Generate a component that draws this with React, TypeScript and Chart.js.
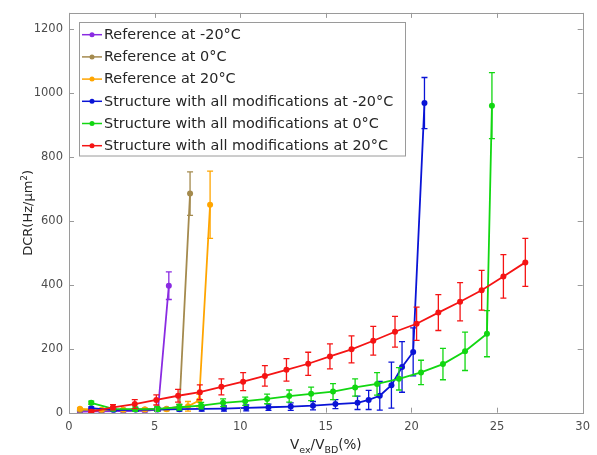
import React, { useEffect, useRef } from "react";
import { Chart, registerables } from "chart.js";

Chart.register(...registerables);

// ---- Data ----
const seriesLabels = [
  "Reference at -20°C",
  "Reference at 0°C",
  "Reference at 20°C",
  "Structure with all modifications at -20°C",
  "Structure with all modifications at 0°C",
  "Structure with all modifications at 20°C",
];
const seriesColors = ["#8a2be2", "#a48a4e", "#ffa500", "#0a14d6", "#12d712", "#f51414"];

const refM20X = [0.64, 1.9, 3.17, 4.43, 5.2, 5.83];
const refM20Y = [3, 4, 5, 6, 10, 397];
const refM20E = [2, 2, 2, 3, 5, 43];

const ref0X = [0.64, 1.9, 3.17, 4.43, 5.7, 6.45, 7.07];
const ref0Y = [8, 8, 9, 10, 12, 20, 685];
const ref0E = [2, 2, 3, 3, 4, 6, 68];

const ref20X = [0.64, 1.9, 3.17, 4.43, 5.7, 6.95, 7.6, 8.24];
const ref20Y = [12, 9, 9, 10, 11, 20, 38, 650];
const ref20E = [3, 3, 3, 4, 5, 15, 20, 105];

const strM20X = [1.3, 2.6, 3.9, 5.15, 6.45, 7.75, 9.05, 10.35, 11.65, 12.95, 14.25, 15.56, 16.85, 17.5, 18.15, 18.83, 19.45, 20.1, 20.76];
const strM20Y = [14, 8, 9, 10, 11, 12, 13, 15, 17, 19, 22, 27, 31, 40, 53, 86, 143, 190, 968];
const strM20E = [4, 4, 5, 5, 6, 7, 8, 9, 10, 12, 13, 14, 21, 30, 45, 72, 79, 75, 80];

const str0X = [1.3, 2.58, 3.87, 5.15, 6.44, 7.72, 9.0, 10.29, 11.57, 12.86, 14.14, 15.42, 16.71, 17.99, 19.27, 20.56, 21.84, 23.13, 24.41, 24.7];
const str0Y = [31, 12, 11, 12, 17, 22, 31, 36, 43, 52, 59, 66, 79, 90, 106, 126, 152, 192, 247, 960];
const str0E = [5, 6, 7, 8, 9, 10, 12, 13, 15, 19, 21, 25, 27, 35, 35, 38, 49, 60, 72, 103];

const str20X = [1.3, 2.57, 3.84, 5.1, 6.37, 7.64, 8.9, 10.17, 11.44, 12.7, 13.97, 15.24, 16.5, 17.77, 19.04, 20.3, 21.57, 22.84, 24.1, 25.37, 26.65];
const str20Y = [3, 17, 27, 40, 53, 64, 81, 97, 115, 134, 153, 176, 198, 225, 253, 278, 313, 347, 383, 426, 470];
const str20E = [6, 8, 14, 16, 20, 23, 25, 28, 32, 35, 36, 39, 42, 45, 48, 52, 56, 60, 62, 68, 75];

const seriesX = [refM20X, ref0X, ref20X, strM20X, str0X, str20X];
const seriesY = [refM20Y, ref0Y, ref20Y, strM20Y, str0Y, str20Y];
const seriesE = [refM20E, ref0E, ref20E, strM20E, str0E, str20E];

const xTicksMin = 0;
const xTicksMax = 30;
const xTickStep = 5;
const yTicksMin = 0;
const yTicksMax = 1250;
const yTickStep = 200;

const FONT = "'DejaVu Sans', 'Liberation Sans', Arial, sans-serif";
const AXIS_COLOR = "#9a9a9a";
const TEXT_COLOR = "#4d4d4d";

const errorBarPlugin = {
  id: "errorBars",
  afterDatasetDraw(chart: any, args: any) {
    const i = args.index;
    const errs = seriesE[i];
    const ys = seriesY[i];
    const yScale = chart.scales.y;
    const ctx = chart.ctx;
    const color = chart.data.datasets[i].borderColor;
    ctx.save();
    ctx.strokeStyle = color;
    ctx.lineWidth = 1.3;
    args.meta.data.forEach((el: any, k: number) => {
      const x = el.x;
      const top = yScale.getPixelForValue(ys[k] + errs[k]);
      const bot = yScale.getPixelForValue(Math.max(ys[k] - errs[k], 0));
      ctx.beginPath();
      ctx.moveTo(x, top);
      ctx.lineTo(x, bot);
      ctx.moveTo(x - 3, top);
      ctx.lineTo(x + 3, top);
      ctx.moveTo(x - 3, bot);
      ctx.lineTo(x + 3, bot);
      ctx.stroke();
    });
    ctx.restore();
  },
};

const framePlugin = {
  id: "frame",
  afterDatasetsDraw(chart: any) {
    const { ctx, chartArea: a, scales } = chart;
    ctx.save();
    ctx.strokeStyle = AXIS_COLOR;
    ctx.lineWidth = 1;
    ctx.strokeRect(Math.round(a.left) + 0.5, Math.round(a.top) + 0.5, Math.round(a.right - a.left), Math.round(a.bottom - a.top));
    const tl = 5;
    ctx.beginPath();
    scales.x.ticks.forEach((t: any) => {
      const px = Math.round(scales.x.getPixelForValue(t.value)) + 0.5;
      ctx.moveTo(px, a.bottom);
      ctx.lineTo(px, a.bottom - tl);
      ctx.moveTo(px, a.top);
      ctx.lineTo(px, a.top + tl);
    });
    scales.y.ticks.forEach((t: any) => {
      const py = Math.round(scales.y.getPixelForValue(t.value)) + 0.5;
      ctx.moveTo(a.left, py);
      ctx.lineTo(a.left + tl, py);
      ctx.moveTo(a.right, py);
      ctx.lineTo(a.right - tl, py);
    });
    ctx.stroke();
    ctx.restore();
  },
  afterDraw(chart: any) {
    const { ctx, chartArea: a } = chart;
    ctx.save();
    ctx.fillStyle = "#262626";
    // X axis title: V_ex / V_BD (%)
    const mainF = `13.5px ${FONT}`;
    const subF = `9.5px ${FONT}`;
    const parts: [string, boolean][] = [["V", false], ["ex", true], ["/V", false], ["BD", true], ["(%)", false]];
    let total = 0;
    parts.forEach(([t, sub]) => {
      ctx.font = sub ? subF : mainF;
      total += ctx.measureText(t).width;
    });
    let x = (a.left + a.right) / 2 - total / 2;
    const base = 449;
    ctx.textBaseline = "alphabetic";
    ctx.textAlign = "left";
    parts.forEach(([t, sub]) => {
      ctx.font = sub ? subF : mainF;
      ctx.fillText(t, x, sub ? base + 3.5 : base);
      x += ctx.measureText(t).width;
    });
    // Y axis title: DCR(Hz/μm²)
    const yParts: [string, boolean][] = [["DCR(Hz/μm", false], ["2", true], [")", false]];
    total = 0;
    yParts.forEach(([t, sup]) => {
      ctx.font = sup ? `9px ${FONT}` : `13px ${FONT}`;
      total += ctx.measureText(t).width;
    });
    ctx.translate(32, (a.top + a.bottom) / 2);
    ctx.rotate(-Math.PI / 2);
    let yx = -total / 2;
    yParts.forEach(([t, sup]) => {
      ctx.font = sup ? `9px ${FONT}` : `13px ${FONT}`;
      ctx.fillText(t, yx, sup ? -5 : 0);
      yx += ctx.measureText(t).width;
    });
    ctx.restore();

    // Legend
    ctx.save();
    const lx = 79.5, ly = 22.5, lw = 326, lh = 133.5;
    ctx.fillStyle = "#ffffff";
    ctx.fillRect(lx, ly, lw, lh);
    ctx.strokeStyle = AXIS_COLOR;
    ctx.lineWidth = 1;
    ctx.strokeRect(lx, ly, lw, lh);
    ctx.font = `14.4px ${FONT}`;
    ctx.textBaseline = "middle";
    chart.data.datasets.forEach((ds: any, i: number) => {
      const cy = 34.7 + i * 22.2;
      ctx.strokeStyle = ds.borderColor;
      ctx.lineWidth = 1.5;
      ctx.beginPath();
      ctx.moveTo(82, cy);
      ctx.lineTo(102, cy);
      ctx.stroke();
      ctx.fillStyle = ds.borderColor;
      ctx.beginPath();
      ctx.arc(92, cy, 2.5, 0, Math.PI * 2);
      ctx.fill();
      ctx.fillStyle = "#262626";
      ctx.fillText(ds.label, 104, cy + 0.5);
    });
    ctx.restore();
  },
};

export default function App() {
  const ref = useRef<HTMLCanvasElement>(null);
  useEffect(() => {
    if (!ref.current) return;
    const datasets = seriesLabels.map((label, i) => ({
      label,
      data: seriesX[i].map((x, k) => ({ x, y: seriesY[i][k] })),
      borderColor: seriesColors[i],
      backgroundColor: seriesColors[i],
      borderWidth: 1.8,
      pointRadius: 3,
      pointBorderWidth: 0,
      pointHoverRadius: 3,
      showLine: true,
      tension: 0,
      order: -i,
    }));
    const chart = new Chart(ref.current, {
      type: "scatter",
      data: { datasets },
      plugins: [errorBarPlugin, framePlugin],
      options: {
        responsive: false,
        animation: false,
        devicePixelRatio: 1,
        layout: { padding: { left: 0, right: 11.7, top: 10.7, bottom: 0 } },
        plugins: { legend: { display: false }, tooltip: { enabled: false } },
        scales: {
          x: {
            type: "linear",
            min: xTicksMin,
            max: xTicksMax,
            grid: { display: false, drawTicks: false },
            border: { display: false },
            ticks: {
              stepSize: xTickStep,
              includeBounds: false,
              padding: 7,
              maxRotation: 0,
              color: TEXT_COLOR,
              font: { family: FONT, size: 11.5 },
              callback: (v: any) => String(v),
            },
            afterFit: (s: any) => {
              s.height = 42.3;
            },
          },
          y: {
            type: "linear",
            min: yTicksMin,
            max: yTicksMax,
            grid: { display: false, drawTicks: false },
            border: { display: false },
            ticks: {
              stepSize: yTickStep,
              includeBounds: false,
              padding: 6,
              color: TEXT_COLOR,
              font: { family: FONT, size: 11.5 },
              callback: (v: any) => String(v),
            },
            afterFit: (s: any) => {
              s.width = 69;
            },
          },
        },
      },
    } as any);
    return () => chart.destroy();
  }, []);
  return (
    <div style={{ position: "absolute", left: 0, top: 0, width: 597, height: 455, background: "#fff" }}>
      <canvas ref={ref} width={597} height={455} style={{ display: "block" }} />
    </div>
  );
}
